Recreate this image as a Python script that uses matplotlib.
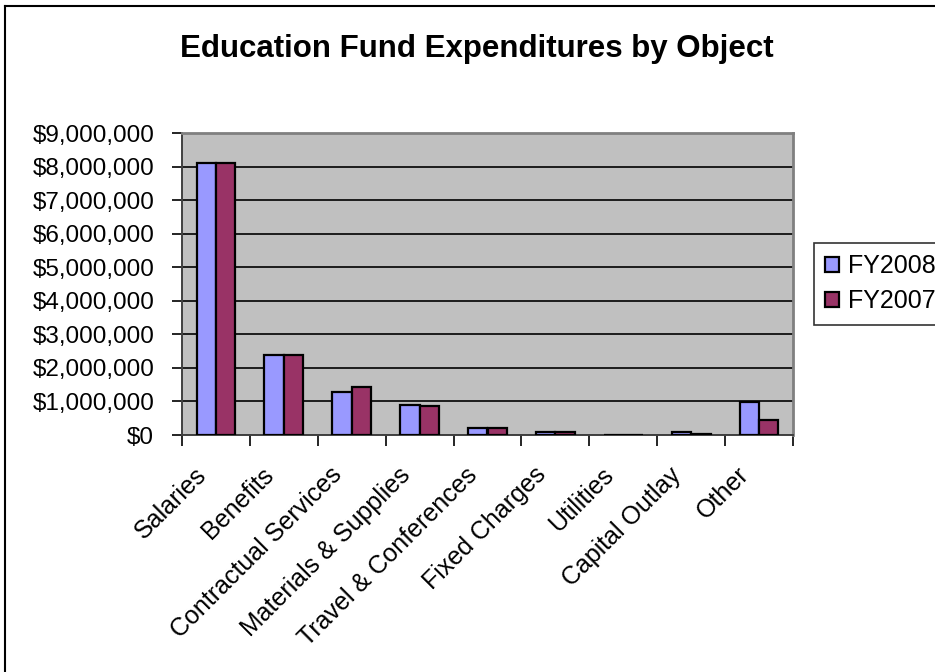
import matplotlib.pyplot as plt
import numpy as np
from matplotlib.lines import Line2D
from matplotlib.ticker import FuncFormatter, MultipleLocator
import matplotlib.transforms as mtransforms

plt.rcParams['font.family'] = ['Liberation Sans', 'DejaVu Sans']

categories = ['Salaries', 'Benefits', 'Contractual Services', 'Materials & Supplies',
              'Travel & Conferences', 'Fixed Charges', 'Utilities', 'Capital Outlay', 'Other']
fy2008 = [8100000, 2380000, 1270000, 900000, 200000, 100000, 0, 100000, 990000]
fy2007 = [8100000, 2380000, 1440000, 860000, 200000, 100000, 0, 40000, 450000]
series = ['FY2008', 'FY2007']
colors = ['#9999FF', '#993366']

fig = plt.figure(figsize=(9.35, 6.72), dpi=100)
ax = fig.add_axes([182 / 935, 1 - 435 / 672, (793 - 182) / 935, (435 - 133) / 672])
ax.set_facecolor('#C0C0C0')

x = np.arange(len(categories))
w = 1 / 3.5
for k, (vals, name, col) in enumerate(zip([fy2008, fy2007], series, colors)):
    ax.bar(x + (k - 0.5) * w, vals, width=w, color=col, edgecolor='black',
           linewidth=1.6, label=name, zorder=3)

ax.set_xlim(-0.5, len(categories) - 0.5)
ax.set_ylim(0, 9000000)
ax.yaxis.set_major_locator(MultipleLocator(1000000))
ax.yaxis.set_major_formatter(FuncFormatter(lambda v, p: f'${v:,.0f}'))
ax.grid(axis='y', color='black', linewidth=1.2, zorder=1)
ax.set_axisbelow(True)

# ticks sit on the category boundaries, labels on the category centres
ax.set_xticks(np.arange(-0.5, len(categories), 1.0))
ax.set_xticklabels([])
ax.set_xticks(x, minor=True)
ax.set_xticklabels(categories, minor=True, rotation=45, ha='right',
                   rotation_mode='anchor', fontsize=18)
ax.tick_params(axis='x', which='minor', length=0, pad=20)
offset = mtransforms.ScaledTranslation(-22 / 100, 0, fig.dpi_scale_trans)
for lbl in ax.get_xticklabels(minor=True):
    lbl.set_transform(lbl.get_transform() + offset)
ax.tick_params(axis='x', which='major', length=8, width=1.2, direction='out')
ax.tick_params(axis='y', length=7, width=1.2, direction='out', labelsize=17.5, pad=13)

for side in ['top', 'right']:
    ax.spines[side].set_color('#808080')
    ax.spines[side].set_linewidth(2)
for side in ['left', 'bottom']:
    ax.spines[side].set_color('#404040')
    ax.spines[side].set_linewidth(1.4)

fig.text(477 / 935, 1 - 49 / 672, 'Education Fund Expenditures by Object',
         ha='center', va='center', fontsize=22.5, fontweight='bold')

leg = fig.legend(loc='upper left', bbox_to_anchor=(814 / 935, 1 - 243 / 672),
                 fontsize=18, frameon=True, fancybox=False, handlelength=0.55,
                 handleheight=0.55, handletextpad=0.35, labelspacing=0.45,
                 borderpad=0.45, borderaxespad=0)
leg.get_frame().set_edgecolor('black')
leg.get_frame().set_linewidth(1.2)

# outer chart border (left and top edges fall inside the canvas)
fig.add_artist(Line2D([5 / 935, 5 / 935], [0, 1 - 6 / 672], color='black', linewidth=1.5))
fig.add_artist(Line2D([5 / 935, 1], [1 - 6 / 672, 1 - 6 / 672], color='black', linewidth=1.5))

fig.savefig('out.png', dpi=100)
